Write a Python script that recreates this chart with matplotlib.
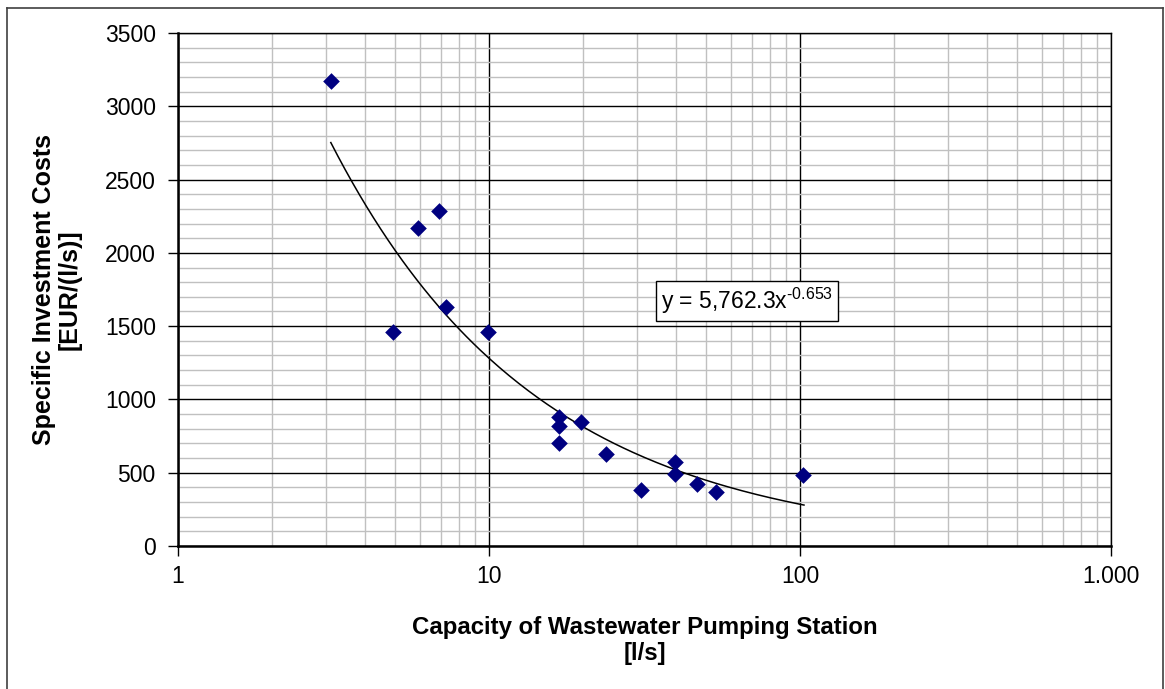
import numpy as np
import matplotlib
matplotlib.use("Agg")
import matplotlib.pyplot as plt
from matplotlib.ticker import FixedLocator, FixedFormatter, MultipleLocator, LogLocator, NullFormatter
from matplotlib.lines import Line2D

plt.rcParams['font.family'] = ['Liberation Sans', 'DejaVu Sans']
plt.rcParams['mathtext.fontset'] = 'custom'
plt.rcParams['mathtext.rm'] = 'Liberation Sans'
plt.rcParams['mathtext.it'] = 'Liberation Sans'

# Data
capacity = [3.1, 4.9, 5.9, 6.9, 7.3, 9.9, 16.8, 16.8, 16.8, 19.8, 23.8, 30.8, 39.6, 39.6, 46.7, 53.7, 102]
cost = [3170, 1460, 2170, 2285, 1630, 1460, 880, 820, 703, 846, 628, 382, 573, 491, 423, 368, 484]
fit_a = 5762.3
fit_b = -0.653
fit_range = [3.1, 103]
x_ticks = [1, 10, 100, 1000]
x_tick_labels = ["1", "10", "100", "1.000"]
y_ticks = [0, 500, 1000, 1500, 2000, 2500, 3000, 3500]

fig = plt.figure(figsize=(11.65, 6.89), dpi=100)
W, H = 1165, 689
for (x0, y0, x1, y1) in [(7, 8, 7, 700), (7, 8, 1163, 8), (1163, 8, 1163, 700)]:
    fig.add_artist(Line2D([x0 / W, x1 / W], [1 - y0 / H, 1 - y1 / H], color='#404040',
                          linewidth=1.2, transform=fig.transFigure))

ax = fig.add_axes([178 / W, 1 - 546 / H, (1111 - 178) / W, (546 - 33) / H])

ax.set_xscale('log')
ax.set_xlim(1, 1000)
ax.set_ylim(0, 3500)

ax.xaxis.set_major_locator(FixedLocator(x_ticks))
ax.xaxis.set_major_formatter(FixedFormatter(x_tick_labels))
ax.xaxis.set_minor_locator(LogLocator(base=10, subs=np.arange(2, 10)))
ax.xaxis.set_minor_formatter(NullFormatter())
ax.yaxis.set_major_locator(FixedLocator(y_ticks))
ax.yaxis.set_minor_locator(MultipleLocator(100))

ax.grid(which='minor', color='#c0c0c0', linewidth=1.0)
ax.grid(which='major', color='black', linewidth=1.0)
ax.set_axisbelow(True)
ax.tick_params(which='minor', length=0)
ax.tick_params(which='major', length=7, width=1.0, direction='out', labelsize=16.5)
ax.tick_params(axis='y', pad=9)
ax.tick_params(axis='x', pad=7)
for s in ax.spines.values():
    s.set_color('black')
    s.set_linewidth(1.0)
ax.spines['left'].set_linewidth(1.8)
ax.spines['bottom'].set_linewidth(1.8)

xf = np.logspace(np.log10(fit_range[0]), np.log10(fit_range[1]), 200)
ax.plot(xf, fit_a * xf ** fit_b, color='black', linewidth=1.1, zorder=3)
ax.scatter(capacity, cost, marker='D', s=72, color='#000080', zorder=4, linewidths=0)

ax.text(67.5, 1672, "y = 5,762.3x$^{\\mathrm{\u2010}0.653}$", fontsize=16.5, ha='center', va='center',
        bbox=dict(boxstyle='square,pad=0.2', facecolor='white', edgecolor='black', linewidth=1.0), zorder=5)

ax.set_xlabel("Capacity of Wastewater Pumping Station\n[l/s]", fontsize=17.3, fontweight='bold',
              labelpad=20, linespacing=1.15)
ax.set_ylabel("Specific Investment Costs\n[EUR/(l/s)]", fontsize=18, fontweight='bold',
              labelpad=17, linespacing=1.05)

fig.savefig("out.png", dpi=100)
